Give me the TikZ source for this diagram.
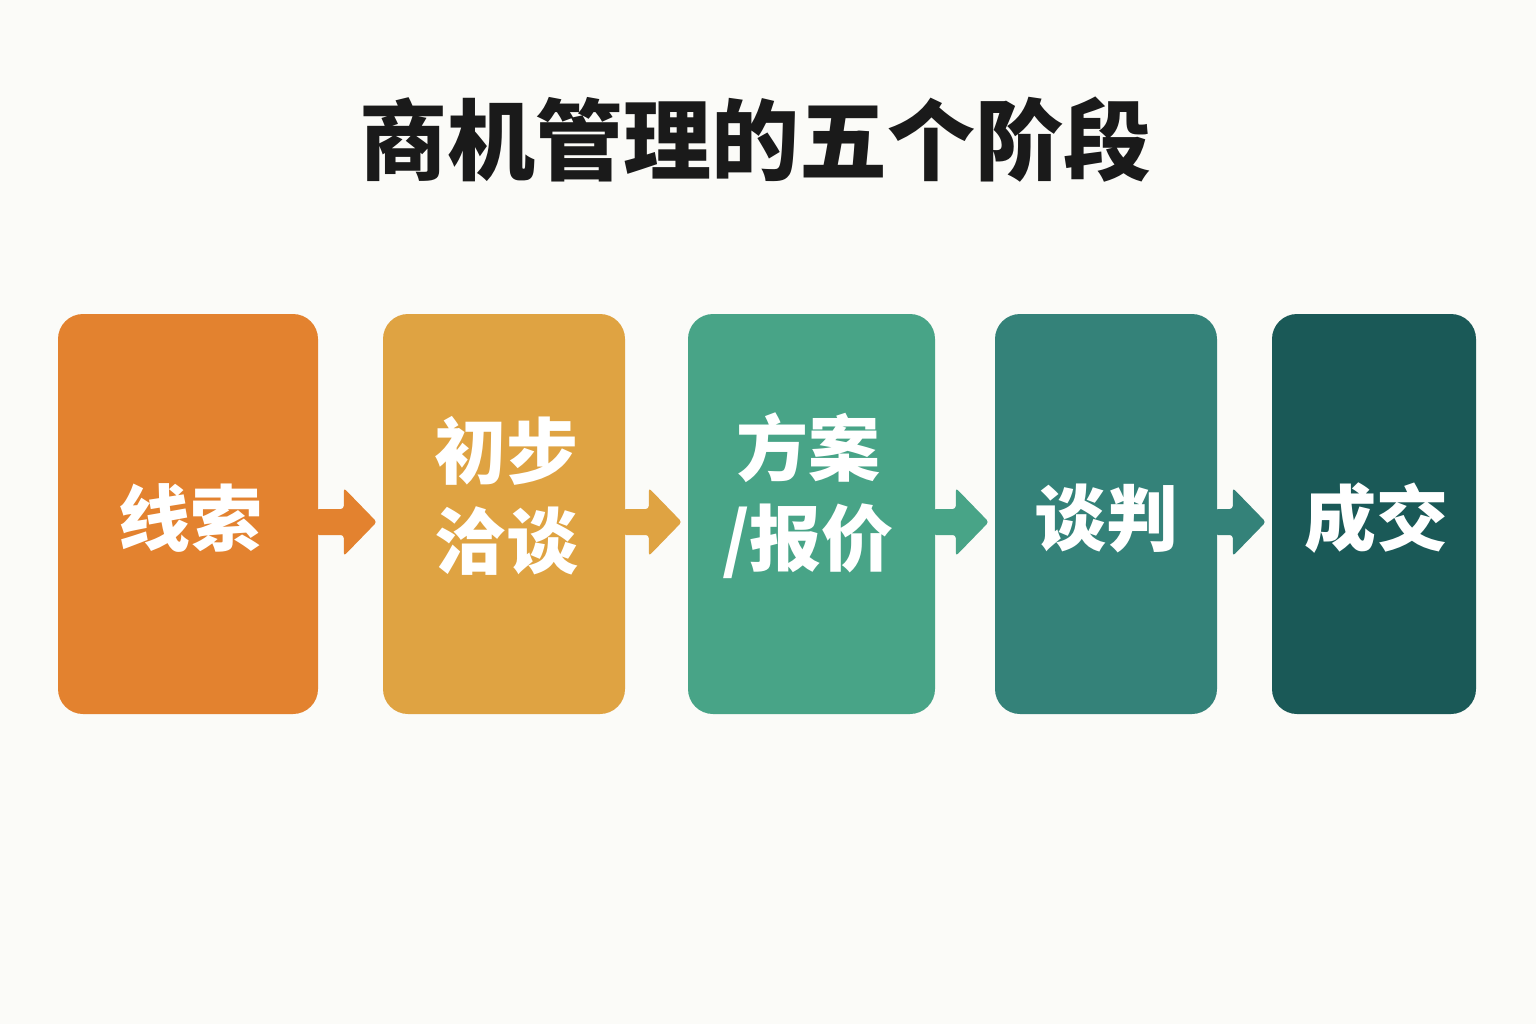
\documentclass[tikz,border=0pt]{standalone}
\usepackage{fontspec}
\newfontfamily\cjk{Noto Sans CJK SC}
\usetikzlibrary{calc}
\definecolor{bgc}{HTML}{FBFBF8}
\definecolor{ca}{HTML}{E3822F}
\definecolor{cb}{HTML}{DFA342}
\definecolor{cc}{HTML}{48A487}
\definecolor{cd}{HTML}{348279}
\definecolor{ce}{HTML}{1A5957}
\definecolor{titlec}{HTML}{1A1A1A}
\tikzset{
  stage/.style={rounded corners=25pt, minimum height=400pt, inner sep=0pt, text=white, align=center,
    font=\cjk\bfseries\fontsize{72}{90}\selectfont},
  arr/.style={rounded corners=3pt}
}
\newcommand\flowarrow[3]{%
  \fill[arr,#3] ($(#1.east |- 0,522)+(-2,-13)$) -- ($(#2.west |- 0,522)+(-39,-13)$) -- ($(#2.west |- 0,522)+(-39,-34)$)
    -- ($(#2.west |- 0,522)+(-6,0)$) -- ($(#2.west |- 0,522)+(-39,34)$) -- ($(#2.west |- 0,522)+(-39,13)$)
    -- ($(#1.east |- 0,522)+(-2,13)$) -- cycle;}
\begin{document}
\begin{tikzpicture}[x=1pt,y=-1pt]
\fill[bgc] (0,0) rectangle (1536,1024);
\useasboundingbox (0,0) rectangle (1536,1024);
\node[text=titlec, font=\cjk\bfseries\fontsize{88}{100}\selectfont] (title) at (755,140) {商机管理的五个阶段};
\node[stage, fill=ca, minimum width=260pt] (s1) at (188,514) {};
\node[stage, fill=cb, minimum width=242pt] (s2) at (504,514) {};
\node[stage, fill=cc, minimum width=247pt] (s3) at (811.5,514) {};
\node[stage, fill=cd, minimum width=222pt] (s4) at (1106,514) {};
\node[stage, fill=ce, minimum width=204pt] (s5) at (1374,514) {};
\flowarrow{s1}{s2}{ca}
\flowarrow{s2}{s3}{cb}
\flowarrow{s3}{s4}{cc}
\flowarrow{s4}{s5}{cd}
\tikzset{lbl/.style={text=white, align=center, font=\cjk\bfseries\fontsize{72}{90}\selectfont}}
\node[lbl] (t1) at (190,518) {线索};
\node[lbl] (t2) at (506,496) {初步\\洽谈};
\node[lbl] (t3) at (808,496) {方案\\/报价};
\node[lbl] (t4) at (1106,518) {谈判};
\node[lbl] (t5) at (1376,518) {成交};
\end{tikzpicture}
\end{document}
